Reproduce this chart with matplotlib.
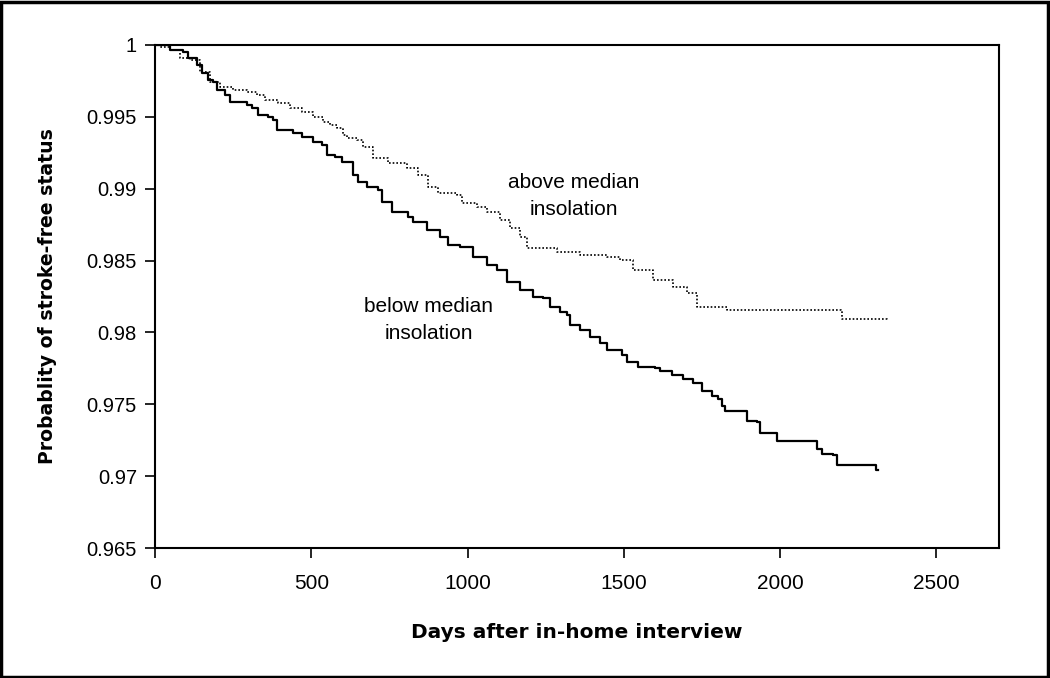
import matplotlib
matplotlib.use("Agg")
import matplotlib.pyplot as plt
from matplotlib.patches import Rectangle

# Below median insolation (solid) - Kaplan-Meier step knots
below_days = [0, 48, 90, 106, 134, 150, 170, 186, 198, 224, 240, 294, 310, 330, 362, 378,
              391, 442, 471, 506, 535, 551, 576, 599, 634, 650, 679, 714, 727, 759, 810,
              826, 871, 912, 938, 976, 1018, 1063, 1095, 1127, 1168, 1210, 1242, 1264,
              1296, 1319, 1328, 1360, 1392, 1424, 1447, 1495, 1511, 1546, 1600, 1617,
              1655, 1690, 1722, 1751, 1783, 1802, 1815, 1825, 1895, 1927, 1937, 1991,
              2119, 2135, 2170, 2183, 2305, 2314]
below_prob = [1.0, 0.99965, 0.99951, 0.99910, 0.99861, 0.99805, 0.99757, 0.99743, 0.99687,
              0.99652, 0.99603, 0.99583, 0.99562, 0.99513, 0.99499, 0.99478, 0.99409,
              0.99388, 0.99360, 0.99325, 0.99304, 0.99235, 0.99221, 0.99186, 0.99095,
              0.99047, 0.99012, 0.98991, 0.98908, 0.98838, 0.98803, 0.98768, 0.98713,
              0.98664, 0.98608, 0.98594, 0.98525, 0.98469, 0.98434, 0.98351, 0.98295,
              0.98247, 0.98240, 0.98177, 0.98142, 0.98121, 0.98052, 0.98017, 0.97968,
              0.97927, 0.97878, 0.97843, 0.97794, 0.97760, 0.97753, 0.97732, 0.97704,
              0.97676, 0.97648, 0.97590, 0.97558, 0.97537, 0.97488, 0.97453, 0.97384,
              0.97377, 0.97300, 0.97245, 0.97189, 0.97154, 0.97147, 0.97078, 0.97043,
              0.97043]

# Above median insolation (dotted)
above_days = [0, 16, 48, 80, 112, 144, 176, 208, 250, 294, 327, 352, 394, 432, 471, 506,
              538, 560, 583, 602, 615, 647, 666, 698, 746, 807, 842, 874, 906, 967, 983,
              1031, 1063, 1104, 1136, 1168, 1191, 1287, 1360, 1447, 1488, 1530, 1594,
              1658, 1703, 1735, 1831, 2193, 2199, 2343]
above_prob = [1.0, 0.99986, 0.99965, 0.99910, 0.99896, 0.99812, 0.99743, 0.99708, 0.99687,
              0.99673, 0.99652, 0.99617, 0.99596, 0.99562, 0.99534, 0.99499, 0.99464,
              0.99443, 0.99422, 0.99374, 0.99353, 0.99339, 0.99290, 0.99214, 0.99179,
              0.99144, 0.99095, 0.99012, 0.98970, 0.98956, 0.98901, 0.98873, 0.98838,
              0.98782, 0.98727, 0.98664, 0.98588, 0.98560, 0.98539, 0.98525, 0.98504,
              0.98434, 0.98365, 0.98316, 0.98274, 0.98177, 0.98156, 0.98149, 0.98094,
              0.98087]

x_ticks = [0, 500, 1000, 1500, 2000, 2500]
y_ticks = [0.965, 0.97, 0.975, 0.98, 0.985, 0.99, 0.995, 1.0]
y_tick_labels = ["0.965", "0.97", "0.975", "0.98", "0.985", "0.99", "0.995", "1"]

plt.rcParams['font.family'] = ['Liberation Sans', 'DejaVu Sans']

fig = plt.figure(figsize=(10.5, 6.78), dpi=100)
ax = fig.add_axes([155/1050, 1 - 548/678, (999-155)/1050, (548-45)/678])

ax.plot(below_days, below_prob, drawstyle='steps-post', color='black', lw=1.6)
ax.plot(above_days, above_prob, drawstyle='steps-post', color='black', lw=1.2,
        linestyle=(0, (1, 1.2)))

ax.set_xlim(0, 2700)
ax.set_ylim(0.965, 1.0)
ax.set_xticks(x_ticks)
ax.set_xticklabels([str(t) for t in x_ticks], fontsize=15)
ax.set_yticks(y_ticks)
ax.set_yticklabels(y_tick_labels, fontsize=14.5)
ax.tick_params(direction='out', length=7, width=1.2)
ax.tick_params(axis='y', pad=6)
ax.tick_params(axis='x', pad=12)
for s in ax.spines.values():
    s.set_linewidth(1.5)

ax.set_xlabel("Days after in-home interview", fontsize=14.5, fontweight='bold', labelpad=21,
              family=['DejaVu Sans'])
ax.set_ylabel("Probablity of stroke-free status", fontsize=13.6, fontweight='bold', labelpad=21,
              family=['DejaVu Sans'])

ax.text(1340, 0.98949, "above median\ninsolation", fontsize=15, ha='center', va='center',
        linespacing=1.55)
ax.text(875, 0.98087, "below median\ninsolation", fontsize=15, ha='center', va='center',
        linespacing=1.55)

fig.patches.append(Rectangle((0.001, 0.0015), 0.997, 0.996, transform=fig.transFigure,
                             fill=False, edgecolor='black', lw=2.5))

fig.savefig("out.png", dpi=100)
